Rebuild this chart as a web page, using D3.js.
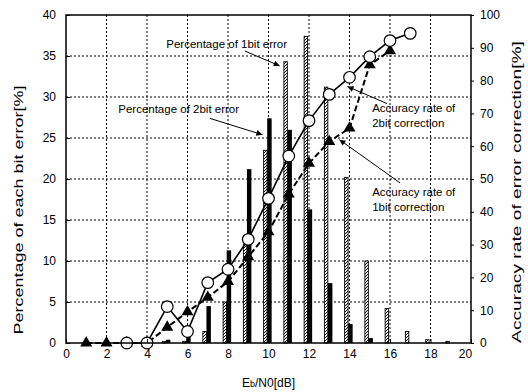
<!DOCTYPE html>
<html>
<head>
<meta charset="utf-8">
<script src="https://cdn.jsdelivr.net/npm/d3@7"></script>
<style>
  body { margin: 0; background: #fff; }
  svg text { font-family: "Liberation Sans", Arial, sans-serif; fill: #000; }
  .eixo path, .eixo line { stroke: #000; }
  .grade line { stroke: #000; stroke-dasharray: 2,2; }
</style>
</head>
<body>
<svg id="grafico"></svg>
<script>
// Dados
var ebno = [1,2,3,4,5,6,7,8,9,10,11,12,13,14,15,16,17,18,19];
var erro1bit = [0,0,0,0,0.2,0.2,1.4,5.0,12.0,23.5,34.3,37.4,31.2,20.2,10.0,4.2,1.4,0.4,0.2];
var erro2bit = [0,0,0,0,0.4,0.9,4.5,11.3,21.2,27.4,26.0,16.3,7.3,2.3,0.6,0,0,0,0];

var ebnoCorr2 = [3,4,5,6,7,8,9,10,11,12,13,14,15,16,17];
var acerto2bit = [0,0,11.1,3.5,18.4,22.5,31.6,44.1,57.0,67.8,75.8,81.0,87.3,92.2,94.4];

var ebnoCorr1 = [1,2,3,4,5,6,7,8,9,10,11,12,13,14,15,16];
var acerto1bit = [0,0,0,0,4.8,9.5,13.9,18.7,26.3,33.9,45.4,54.8,61.4,65.5,84.8,89.1];

var ticksX = [0,2,4,6,8,10,12,14,16,18,20];
var ticksEsq = [0,5,10,15,20,25,30,35,40];
var ticksDir = [0,10,20,30,40,50,60,70,80,90,100];

var largura = 528, altura = 392;
var margem = {esquerda: 66, direita: 57, superior: 15, inferior: 49};
var lp = largura - margem.esquerda - margem.direita;
var ap = altura - margem.superior - margem.inferior;

var svg = d3.select('#grafico').attr('width', largura).attr('height', altura);

var defs = svg.append('defs');
defs.append('pattern')
    .attr('id', 'hachura')
    .attr('patternUnits', 'userSpaceOnUse')
    .attr('width', 3).attr('height', 3)
    .call(function(p) {
        p.append('rect').attr('width', 3).attr('height', 3).attr('fill', '#fff');
        p.append('path').attr('d', 'M-1,1 L1,-1 M0,3 L3,0 M2,4 L4,2')
            .attr('stroke', '#000').attr('stroke-width', 1);
    });
defs.append('marker')
    .attr('id', 'seta')
    .attr('viewBox', '0 0 10 10')
    .attr('refX', 10).attr('refY', 5)
    .attr('markerUnits', 'userSpaceOnUse')
    .attr('markerWidth', 8).attr('markerHeight', 6)
    .attr('orient', 'auto')
    .append('path').attr('d', 'M0,0 L10,5 L0,10 Z').attr('fill', '#000');

var plot = svg.append('g')
    .attr('transform', 'translate(' + margem.esquerda + ',' + margem.superior + ')');

// Escalas
var x = d3.scaleLinear().domain([0, 20]).range([0, lp]);
var yE = d3.scaleLinear().domain([0, 40]).range([ap, 0]);
var yD = d3.scaleLinear().domain([0, 100]).range([ap, 0]);

// Grade pontilhada
plot.append('g').attr('class', 'grade')
    .selectAll('line').data(ticksX.slice(1, -1)).enter().append('line')
    .attr('x1', d => x(d)).attr('x2', d => x(d))
    .attr('y1', 0).attr('y2', ap);
plot.append('g').attr('class', 'grade')
    .selectAll('line').data(ticksEsq.slice(1, -1)).enter().append('line')
    .attr('x1', 0).attr('x2', lp)
    .attr('y1', d => yE(d)).attr('y2', d => yE(d));

// Barras
var dados = ebno.map((e, i) => ({x: e, um: erro1bit[i], dois: erro2bit[i]}));

plot.selectAll('.barra1').data(dados.filter(d => d.um > 0)).enter().append('rect')
    .attr('class', 'barra1')
    .attr('x', d => x(d.x - 0.24))
    .attr('y', d => yE(d.um))
    .attr('width', x(0.17) - x(0))
    .attr('height', d => ap - yE(d.um))
    .attr('fill', 'url(#hachura)')
    .attr('stroke', '#000').attr('stroke-width', 0.9);

plot.selectAll('.barra2').data(dados.filter(d => d.dois > 0)).enter().append('rect')
    .attr('class', 'barra2')
    .attr('x', d => x(d.x - 0.065))
    .attr('y', d => yE(d.dois))
    .attr('width', x(0.22) - x(0))
    .attr('height', d => ap - yE(d.dois))
    .attr('fill', '#000');

// Linhas de taxa de acerto
var corr1 = ebnoCorr1.map((e, i) => ({x: e, v: acerto1bit[i]}));
var corr2 = ebnoCorr2.map((e, i) => ({x: e, v: acerto2bit[i]}));
var linha = d3.line().x(d => x(d.x)).y(d => yD(d.v));

plot.append('path').datum(corr1)
    .attr('d', linha).attr('fill', 'none')
    .attr('stroke', '#000').attr('stroke-width', 2).attr('stroke-dasharray', '6,3');
plot.append('path').datum(corr2)
    .attr('d', linha).attr('fill', 'none')
    .attr('stroke', '#000').attr('stroke-width', 1.6);

plot.selectAll('.tri').data(corr1).enter().append('path')
    .attr('class', 'tri')
    .attr('transform', d => 'translate(' + x(d.x) + ',' + yD(d.v) + ')')
    .attr('d', d3.symbol().type(d3.symbolTriangle).size(62))
    .attr('fill', '#000');

plot.selectAll('.circ').data(corr2).enter().append('circle')
    .attr('class', 'circ')
    .attr('cx', d => x(d.x)).attr('cy', d => yD(d.v)).attr('r', 5.8)
    .attr('fill', '#fff').attr('stroke', '#000').attr('stroke-width', 1.2);

// Borda e eixos
plot.append('rect').attr('width', lp).attr('height', ap)
    .attr('fill', 'none').attr('stroke', '#000').attr('stroke-width', 1.5);

var eixoX = plot.append('g').attr('class', 'eixo')
    .attr('transform', 'translate(0,' + ap + ')')
    .call(d3.axisBottom(x).tickValues(ticksX).tickSize(-4).tickPadding(6));
eixoX.selectAll('text').filter(d => d === 20).attr('dx', -6);

plot.append('g').attr('class', 'eixo')
    .call(d3.axisLeft(yE).tickValues(ticksEsq).tickSize(-4).tickPadding(10));
plot.append('g').attr('class', 'eixo')
    .attr('transform', 'translate(' + lp + ',0)')
    .call(d3.axisRight(yD).tickValues(ticksDir).tickSize(3).tickPadding(6));

plot.selectAll('.eixo .domain').remove();
plot.selectAll('.eixo text').style('font-size', '12px');

// Títulos dos eixos (esticados no sentido do texto, como no original)
svg.append('text')
    .attr('transform', 'translate(23,210) rotate(-90) scale(1.5,1)')
    .style('text-anchor', 'middle').style('font-size', '12px')
    .text('Percentage of each bit error[%]');
svg.append('text')
    .attr('transform', 'translate(521,192) rotate(-90) scale(1.6,1)')
    .style('text-anchor', 'middle').style('font-size', '12px')
    .text('Accuracy rate of error correction[%]');
var tx = svg.append('text')
    .attr('x', margem.esquerda + lp / 2).attr('y', 387)
    .style('text-anchor', 'middle').style('font-size', '12px');
tx.append('tspan').text('E');
tx.append('tspan').style('font-size', '9px').text('b');
tx.append('tspan').text('/N0[dB]');

// Anotações com setas (coordenadas em valores dos eixos)
var notas = [
    {linhas: ['Percentage of 1bit error'], tx: 4.95, ty: 36.0, de: [8.84, 35.6], ate: [10.55, 33.8], y: yE},
    {linhas: ['Percentage of 2bit error'], tx: 2.58, ty: 28.0, de: [7.1, 27.4], ate: [9.7, 25.4], y: yE},
    {linhas: ['Accuracy rate of', '2bit correction'], tx: 15.12, ty: 70.4, de: [15.85, 73.0], ate: [13.9, 78.2], y: yD},
    {linhas: ['Accuracy rate of', '1bit correction'], tx: 15.12, ty: 44.8, de: [16.5, 48.8], ate: [13.5, 62.0], y: yD}
];

notas.forEach(function(n) {
    n.linhas.forEach(function(l, i) {
        plot.append('text')
            .attr('x', x(n.tx)).attr('y', n.y(n.ty) + i * 14.5)
            .style('font-size', '11.5px')
            .text(l);
    });
    plot.append('line')
        .attr('x1', x(n.de[0])).attr('y1', n.y(n.de[1]))
        .attr('x2', x(n.ate[0])).attr('y2', n.y(n.ate[1]))
        .attr('stroke', '#000').attr('stroke-width', 1)
        .attr('marker-end', 'url(#seta)');
});
</script>
</body>
</html>
